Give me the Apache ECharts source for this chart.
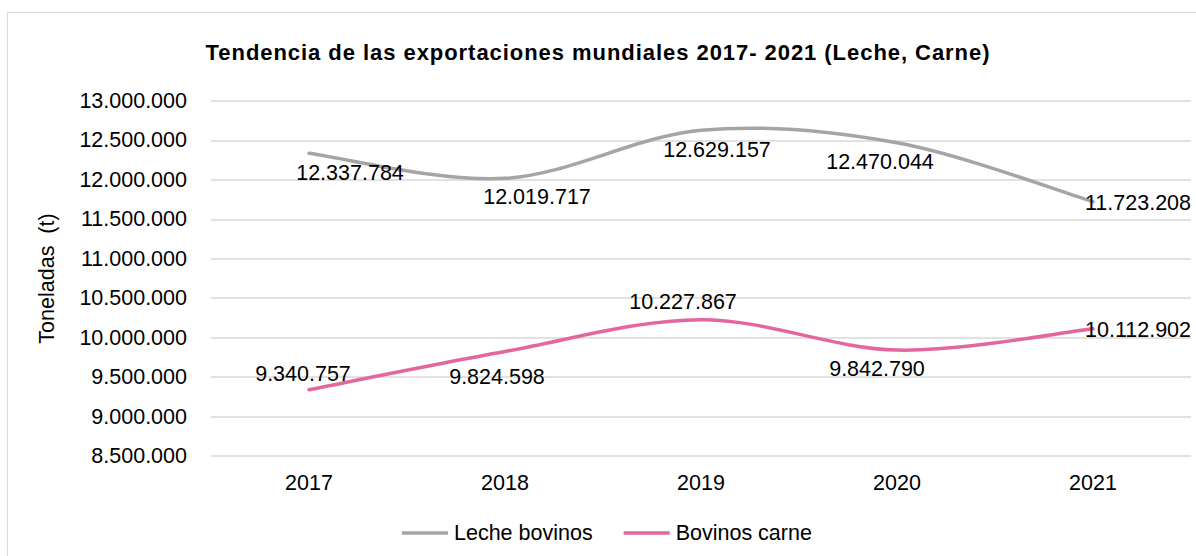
<!DOCTYPE html>
<html>
<head>
<meta charset="utf-8">
<script src="https://cdn.jsdelivr.net/npm/echarts@6/dist/echarts.min.js"></script>
<style>
  html, body { margin: 0; padding: 0; background: #fff; }
  #chart { width: 1196px; height: 556px; }
</style>
</head>
<body>
<div id="chart"></div>
<script>
// Categories and series values
const years = ['2017', '2018', '2019', '2020', '2021'];
const lecheBovinos = [12337784, 12019717, 12629157, 12470044, 11723208];
const bovinosCarne = [9340757, 9824598, 10227867, 9842790, 10112902];

const TITLE = 'Tendencia de las exportaciones mundiales 2017- 2021 (Leche, Carne)';

// Label placement around each point (pixels)
const lecheLabelOffsets = [[41, 20], [32, 19], [16, 20], [-17, 19], [45, 1]];
const carneLabelOffsets = [[-6, -16], [-8, 25], [-18, -18], [-20, 19], [45, 1]];

const GRAY = '#A5A5A5';
const PINK = '#E4669E';
const fmt = v => String(v).replace(/\B(?=(\d{3})+(?!\d))/g, '.');
const FONT = '"Liberation Sans", Arial, sans-serif';
const FS = 21.5;

function buildData(values, offsets) {
  return values.map((v, i) => ({ value: v, label: { offset: offsets[i] } }));
}

// Smooth curve through the points (cardinal spline, Bezier segments),
// positioned with the chart's own coordinate system.
function curveSeries(values, color) {
  return {
    type: 'custom',
    silent: true,
    z: 2,
    data: values,
    renderItem: function (params, api) {
      if (params.dataIndex !== 0) return null;
      const p = values.map((v, i) => api.coord([i, v]));
      const n = p.length;
      let d = 'M' + p[0][0] + ' ' + p[0][1];
      for (let i = 0; i < n - 1; i++) {
        const a = p[Math.max(i - 1, 0)], b = p[i], c = p[i + 1], e = p[Math.min(i + 2, n - 1)];
        const c1 = [b[0] + (c[0] - a[0]) / 6, b[1] + (c[1] - a[1]) / 6];
        const c2 = [c[0] - (e[0] - b[0]) / 6, c[1] - (e[1] - b[1]) / 6];
        d += ' C' + c1[0] + ' ' + c1[1] + ' ' + c2[0] + ' ' + c2[1] + ' ' + c[0] + ' ' + c[1];
      }
      return {
        type: 'path',
        shape: { pathData: d },
        style: { fill: 'none', stroke: color, lineWidth: 3.5, lineCap: 'round' }
      };
    }
  };
}

function labelSeries(name, values, offsets, color) {
  return {
    name: name,
    type: 'line',
    symbol: 'circle',
    symbolSize: 1,
    data: buildData(values, offsets),
    lineStyle: { color: color, width: 0, opacity: 0 },
    itemStyle: { color: color, opacity: 0 },
    label: {
      show: true,
      position: 'inside',
      fontFamily: FONT,
      fontSize: FS,
      color: '#000',
      opacity: 1,
      formatter: p => fmt(p.value)
    },
    z: 3
  };
}

const chart = echarts.init(document.getElementById('chart'), null, { renderer: 'svg' });

chart.setOption({
  backgroundColor: '#fff',
  animation: false,
  textStyle: { fontFamily: FONT },
  graphic: [{
    type: 'rect',
    shape: { x: 7.5, y: 12.5, width: 1200, height: 600 },
    style: { fill: 'none', stroke: '#D9D9D9', lineWidth: 1 },
    silent: true
  }],
  title: {
    text: TITLE,
    left: 'center',
    top: 36,
    textStyle: { fontFamily: FONT, fontSize: 22, fontWeight: 'bold', color: '#000' }
  },
  legend: {
    bottom: 7,
    left: 397,
    itemWidth: 46,
    itemHeight: 3.5,
    itemGap: 31,
    icon: 'rect',
    textStyle: { fontFamily: FONT, fontSize: FS, color: '#000', padding: [0, 0, 0, 1] },
    data: [
      { name: 'Leche bovinos', itemStyle: { color: GRAY, opacity: 1 } },
      { name: 'Bovinos carne', itemStyle: { color: PINK, opacity: 1 } }
    ]
  },
  grid: { left: 211, right: 5, top: 101, bottom: 100, containLabel: false },
  xAxis: {
    type: 'category',
    data: years,
    boundaryGap: true,
    axisLine: { show: false },
    axisTick: { show: false },
    axisLabel: { fontFamily: FONT, fontSize: FS, color: '#000', margin: 16 }
  },
  yAxis: {
    type: 'value',
    min: 8500000,
    max: 13000000,
    interval: 500000,
    name: 'Toneladas  (t)',
    nameLocation: 'middle',
    nameGap: 153,
    nameRotate: 90,
    nameTextStyle: { fontFamily: FONT, fontSize: FS, color: '#000' },
    axisLine: { show: false },
    axisTick: { show: false },
    splitLine: { lineStyle: { color: '#D9D9D9', width: 1.5 } },
    axisLabel: { fontFamily: FONT, fontSize: FS, color: '#000', margin: 24, formatter: fmt }
  },
  series: [
    curveSeries(lecheBovinos, GRAY),
    curveSeries(bovinosCarne, PINK),
    labelSeries('Leche bovinos', lecheBovinos, lecheLabelOffsets, GRAY),
    labelSeries('Bovinos carne', bovinosCarne, carneLabelOffsets, PINK)
  ]
});

// The title is set with slightly open tracking
function spaceTitle() {
  document.querySelectorAll('#chart svg text').forEach(t => {
    if (t.textContent === TITLE) t.style.letterSpacing = '0.95px';
  });
}
spaceTitle();
chart.on('finished', spaceTitle);
requestAnimationFrame(spaceTitle);
</script>
</body>
</html>
